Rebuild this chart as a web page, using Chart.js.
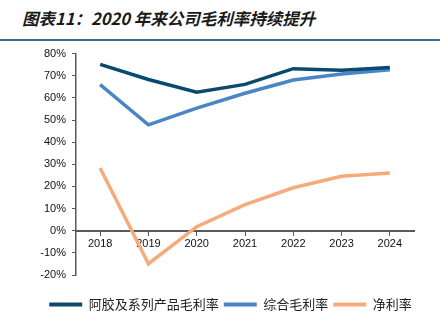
<!DOCTYPE html>
<html lang="zh">
<head>
  <meta charset="UTF-8" />
  <title>毛利率</title>
  <script src="https://cdn.jsdelivr.net/npm/chart.js"></script>
  <style>
    body { margin: 0; background: #fff; width: 448px; height: 335px; overflow: hidden; position: relative; }
    .title {
      position: absolute; left: 22px; top: 0; height: 36px; line-height: 36px;
      font-family: "Noto Sans CJK SC", sans-serif; font-size: 16.5px;
      font-style: italic; font-weight: bold; color: #1a1a1a; white-space: nowrap;
    }
    .rule { position: absolute; left: 0; top: 39px; width: 440px; height: 2px; background: #3b6a8c; }
    .wrap { position: absolute; left: 0; top: 41px; width: 448px; height: 294px; }
  </style>
</head>
<body>
  <div class="title">图表11：2020 年来公司毛利率持续提升</div>
  <div class="rule"></div>
  <div class="wrap"><canvas id="chart"></canvas></div>

  <script>
    const years = ['2018', '2019', '2020', '2021', '2022', '2023', '2024'];
    const ejiaoMargin = [75.1, 68.3, 62.6, 66.1, 73.2, 72.5, 73.7];
    const grossMargin = [66.0, 47.8, 55.4, 62.1, 68.1, 70.8, 72.7];
    const netMargin = [28.3, -14.9, 1.8, 11.8, 19.4, 24.6, 26.1];

    const axisColor = '#595959';

    function line(label, data, color) {
      return {
        label: label,
        data: data,
        borderColor: color,
        backgroundColor: color,
        borderWidth: 3.5,
        pointRadius: 0,
        tension: 0
      };
    }

    new Chart(document.getElementById('chart'), {
      type: 'line',
      data: {
        labels: years,
        datasets: [
          line('阿胶及系列产品毛利率', ejiaoMargin, '#0b4a6f'),
          line('综合毛利率', grossMargin, '#4a86c6'),
          line('净利率', netMargin, '#f5ab7c')
        ]
      },
      options: {
        responsive: true,
        maintainAspectRatio: false,
        animation: false,
        layout: { padding: { top: 9, right: 0, left: 13, bottom: 14 } },
        plugins: {
          tooltip: { enabled: false },
          legend: {
            position: 'bottom',
            title: { display: true, text: ' ', font: { size: 10 }, padding: { top: 0, bottom: 6 } },
            labels: {
              boxWidth: 33,
              boxHeight: 4,
              padding: 5,
              color: '#222',
              font: { family: '"Noto Sans CJK SC"', size: 13 },
              generateLabels(chart) {
                return Chart.defaults.plugins.legend.labels.generateLabels(chart)
                  .map(item => Object.assign(item, { lineWidth: 0 }));
              }
            }
          }
        },
        scales: {
          x: {
            position: { y: 0 },
            offset: true,
            grid: { display: true, drawOnChartArea: false, drawTicks: true, tickLength: 4, color: axisColor, lineWidth: 1 },
            border: { color: axisColor, width: 2 },
            ticks: { color: '#111', padding: 3, font: { family: '"Liberation Sans", Arial', size: 11 } }
          },
          y: {
            min: -20,
            max: 80,
            afterFit(scale) { scale.width = 63; },
            grid: { display: true, drawOnChartArea: false, drawTicks: true, tickLength: 4, color: axisColor, lineWidth: 1 },
            border: { color: axisColor, width: 1.5 },
            ticks: {
              stepSize: 10,
              color: '#111',
              padding: 6,
              font: { family: '"Liberation Sans", Arial', size: 11 },
              callback: v => v + '%'
            }
          },
          // empty axis on the right keeps the plot clear of the edge
          yRight: {
            position: 'right',
            display: true,
            afterFit(scale) { scale.width = 34; },
            grid: { display: false },
            border: { display: false },
            ticks: { display: false }
          }
        }
      }
    });
  </script>
</body>
</html>
